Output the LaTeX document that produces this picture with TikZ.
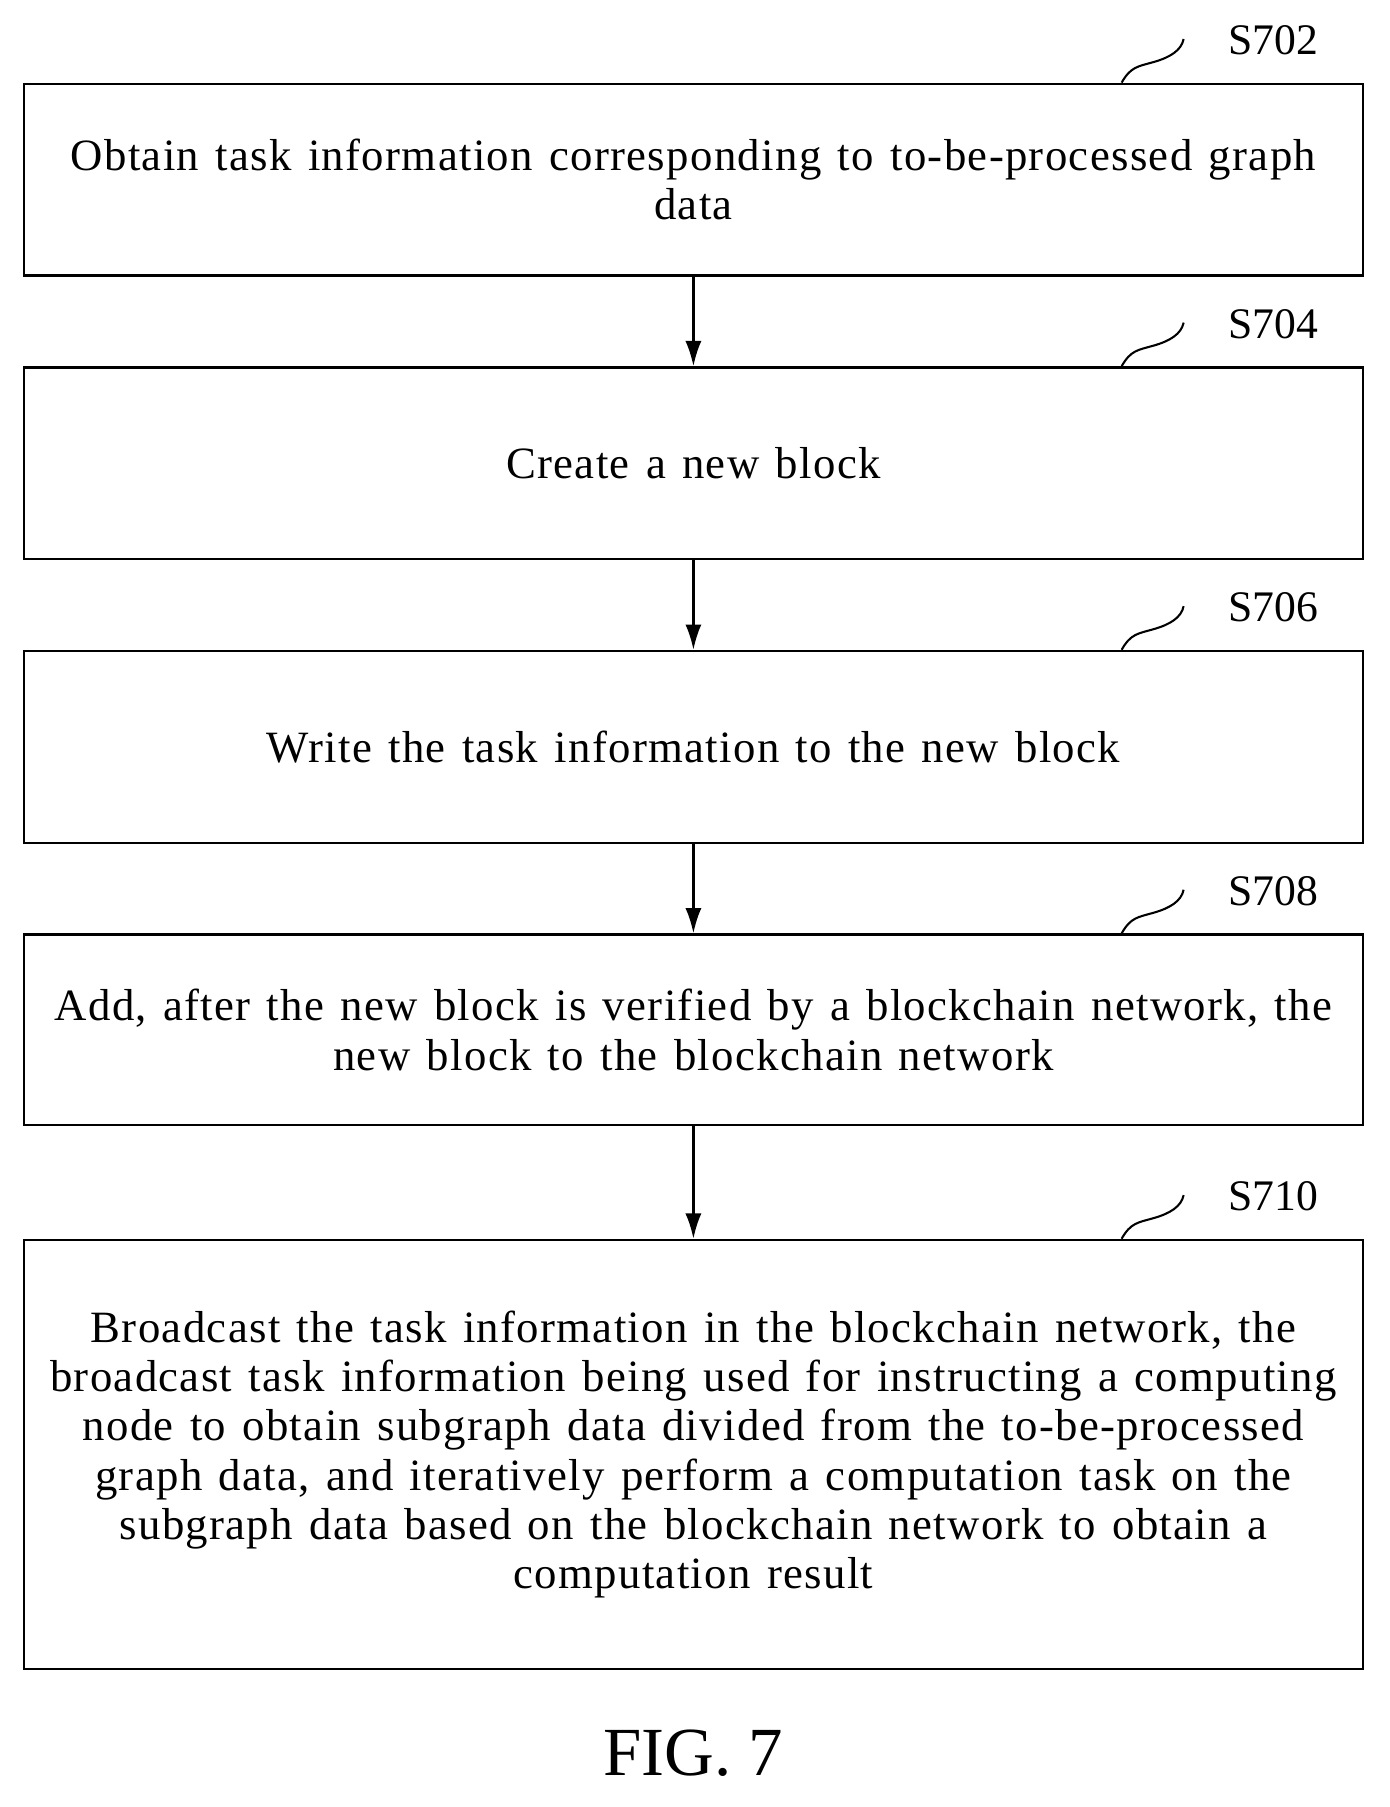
\documentclass[tikz,border=0pt]{standalone}
\usepackage{fontspec}
\setmainfont[LetterSpace=3,WordSpace=1.3]{Liberation Serif}
\newfontfamily\labfont{Liberation Serif}
\usetikzlibrary{arrows.meta}
\begin{document}
\begin{tikzpicture}[x=1pt,y=-1pt,
  box/.style={draw,line width=2pt,minimum width=1166pt,anchor=north west,inner sep=0pt,align=center,font=\fontsize{39}{43}\selectfont},
  arr/.style={-{Latex[length=22pt,width=14pt]},line width=2pt},
  lab/.style={font=\labfont\fontsize{38}{43}\selectfont,anchor=center}]
\useasboundingbox (0,0) rectangle (1210,1574);
\node[box,minimum height=167pt] (b1) at (20,72) {Obtain task information corresponding to to-be-processed graph\\data};
\node[box,minimum height=167pt] (b2) at (20,319) {Create a new block};
\node[box,minimum height=167pt] (b3) at (20,566) {Write the task information to the new block};
\node[box,minimum height=166pt] (b4) at (20,813) {Add, after the new block is verified by a blockchain network, the\\new block to the blockchain network};
\node[box,minimum height=374pt] (b5) at (20,1079) {Broadcast the task information in the blockchain network, the\\broadcast task information being used for instructing a computing\\node to obtain subgraph data divided from the to-be-processed\\graph data, and iteratively perform a computation task on the\\subgraph data based on the blockchain network to obtain a\\computation result};
\draw[arr] (b1.south) -- (b2.north);
\draw[arr] (b2.south) -- (b3.north);
\draw[arr] (b3.south) -- (b4.north);
\draw[arr] (b4.south) -- (b5.north);
\foreach \b/\t in {b1/S702,b2/S704,b3/S706,b4/S708,b5/S710}{
  \coordinate (\b c) at ([xshift=-211pt]\b.north east);
  \draw[line width=1.8pt] (\b c) .. controls ++(8,-14) and ++(-14,4) .. ++(28,-18) .. controls ++(14,-4) and ++(-2,10) .. ++(26,-20);
  \node[lab] (\b l) at ([xshift=-79pt,yshift=37pt]\b.north east) {\t};
}
\node[font=\labfont\fontsize{60}{70}\selectfont] (fig) at (604,1527) {FIG. 7};
\end{tikzpicture}
\end{document}
